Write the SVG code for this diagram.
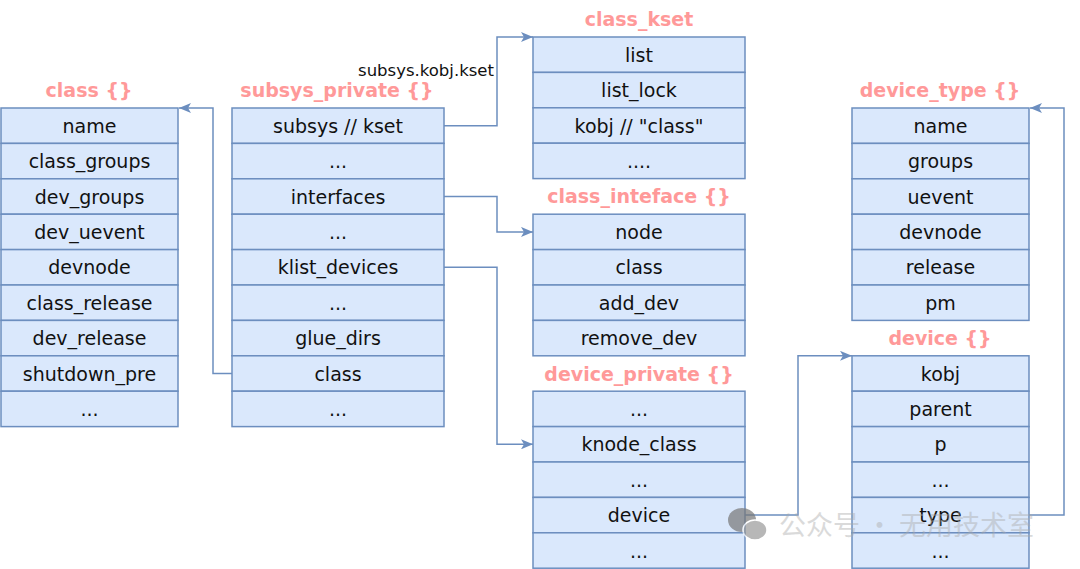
<svg xmlns="http://www.w3.org/2000/svg" width="1080" height="569" viewBox="0 0 1080 569">
<style>
.row{fill:#DAE8FC;stroke:#6C8EBF;stroke-width:1.5}
.t{font-family:"DejaVu Sans",sans-serif;font-size:19px;fill:#111;text-anchor:middle;dominant-baseline:central}
.h{font-family:"DejaVu Sans",sans-serif;font-weight:bold;font-size:19px;fill:#FF9999;text-anchor:middle}
.c{fill:none;stroke:#6C8EBF;stroke-width:1.5}
.lbl{font-family:"DejaVu Sans",sans-serif;font-size:16.5px;fill:#111;text-anchor:middle}
.wm{font-family:"Noto Sans CJK SC",sans-serif;font-size:27px;fill:#aaa;opacity:0.6}
</style>
<defs>
<marker id="arr" viewBox="0 0 12 10" refX="12" refY="5" markerWidth="12" markerHeight="10" markerUnits="userSpaceOnUse" orient="auto">
<path d="M0,0 L12,5 L0,10 L3,5 z" fill="#6C8EBF"/>
</marker>
</defs>
<rect width="1080" height="569" fill="#fff"/>

<g id="class">
<text class="h" x="89" y="97">class {}</text>
<rect class="row" x="1" y="108" width="177" height="35.4"/><text class="t" x="89.5" y="125.7">name</text>
<rect class="row" x="1" y="143.4" width="177" height="35.4"/><text class="t" x="89.5" y="161.1">class_groups</text>
<rect class="row" x="1" y="178.8" width="177" height="35.4"/><text class="t" x="89.5" y="196.5">dev_groups</text>
<rect class="row" x="1" y="214.2" width="177" height="35.4"/><text class="t" x="89.5" y="231.9">dev_uevent</text>
<rect class="row" x="1" y="249.6" width="177" height="35.4"/><text class="t" x="89.5" y="267.3">devnode</text>
<rect class="row" x="1" y="285" width="177" height="35.4"/><text class="t" x="89.5" y="302.7">class_release</text>
<rect class="row" x="1" y="320.4" width="177" height="35.4"/><text class="t" x="89.5" y="338.1">dev_release</text>
<rect class="row" x="1" y="355.8" width="177" height="35.4"/><text class="t" x="89.5" y="373.5">shutdown_pre</text>
<rect class="row" x="1" y="391.2" width="177" height="35.4"/><text class="t" x="89.5" y="408.9">...</text>
</g>

<g id="subsys_private">
<text class="h" x="337" y="97">subsys_private {}</text>
<rect class="row" x="232" y="108" width="212" height="35.4"/><text class="t" x="338" y="125.7">subsys // kset</text>
<rect class="row" x="232" y="143.4" width="212" height="35.4"/><text class="t" x="338" y="161.1">...</text>
<rect class="row" x="232" y="178.8" width="212" height="35.4"/><text class="t" x="338" y="196.5">interfaces</text>
<rect class="row" x="232" y="214.2" width="212" height="35.4"/><text class="t" x="338" y="231.9">...</text>
<rect class="row" x="232" y="249.6" width="212" height="35.4"/><text class="t" x="338" y="267.3">klist_devices</text>
<rect class="row" x="232" y="285" width="212" height="35.4"/><text class="t" x="338" y="302.7">...</text>
<rect class="row" x="232" y="320.4" width="212" height="35.4"/><text class="t" x="338" y="338.1">glue_dirs</text>
<rect class="row" x="232" y="355.8" width="212" height="35.4"/><text class="t" x="338" y="373.5">class</text>
<rect class="row" x="232" y="391.2" width="212" height="35.4"/><text class="t" x="338" y="408.9">...</text>
</g>

<g id="class_kset">
<text class="h" x="639" y="26">class_kset</text>
<rect class="row" x="533" y="37" width="212" height="35.4"/><text class="t" x="639" y="54.7">list</text>
<rect class="row" x="533" y="72.4" width="212" height="35.4"/><text class="t" x="639" y="90.1">list_lock</text>
<rect class="row" x="533" y="107.8" width="212" height="35.4"/><text class="t" x="639" y="125.5">kobj // "class"</text>
<rect class="row" x="533" y="143.2" width="212" height="35.4"/><text class="t" x="639" y="160.9">....</text>
</g>

<g id="class_inteface">
<text class="h" x="639" y="203">class_inteface {}</text>
<rect class="row" x="533" y="214.2" width="212" height="35.4"/><text class="t" x="639" y="231.9">node</text>
<rect class="row" x="533" y="249.6" width="212" height="35.4"/><text class="t" x="639" y="267.3">class</text>
<rect class="row" x="533" y="285" width="212" height="35.4"/><text class="t" x="639" y="302.7">add_dev</text>
<rect class="row" x="533" y="320.4" width="212" height="35.4"/><text class="t" x="639" y="338.1">remove_dev</text>
</g>

<g id="device_private">
<text class="h" x="639" y="381">device_private {}</text>
<rect class="row" x="533" y="391.2" width="212" height="35.4"/><text class="t" x="639" y="408.9">...</text>
<rect class="row" x="533" y="426.6" width="212" height="35.4"/><text class="t" x="639" y="444.3">knode_class</text>
<rect class="row" x="533" y="462" width="212" height="35.4"/><text class="t" x="639" y="479.7">...</text>
<rect class="row" x="533" y="497.4" width="212" height="35.4"/><text class="t" x="639" y="515.1">device</text>
<rect class="row" x="533" y="532.8" width="212" height="35.4"/><text class="t" x="639" y="550.5">...</text>
</g>

<g id="device_type">
<text class="h" x="940" y="97">device_type {}</text>
<rect class="row" x="852" y="108" width="177" height="35.4"/><text class="t" x="940.5" y="125.7">name</text>
<rect class="row" x="852" y="143.4" width="177" height="35.4"/><text class="t" x="940.5" y="161.1">groups</text>
<rect class="row" x="852" y="178.8" width="177" height="35.4"/><text class="t" x="940.5" y="196.5">uevent</text>
<rect class="row" x="852" y="214.2" width="177" height="35.4"/><text class="t" x="940.5" y="231.9">devnode</text>
<rect class="row" x="852" y="249.6" width="177" height="35.4"/><text class="t" x="940.5" y="267.3">release</text>
<rect class="row" x="852" y="285" width="177" height="35.4"/><text class="t" x="940.5" y="302.7">pm</text>
</g>

<g id="device">
<text class="h" x="940" y="345">device {}</text>
<rect class="row" x="852" y="355.8" width="177" height="35.4"/><text class="t" x="940.5" y="373.5">kobj</text>
<rect class="row" x="852" y="391.2" width="177" height="35.4"/><text class="t" x="940.5" y="408.9">parent</text>
<rect class="row" x="852" y="426.6" width="177" height="35.4"/><text class="t" x="940.5" y="444.3">p</text>
<rect class="row" x="852" y="462" width="177" height="35.4"/><text class="t" x="940.5" y="479.7">...</text>
<rect class="row" x="852" y="497.4" width="177" height="35.4"/><text class="t" x="940.5" y="515.1">type</text>
<rect class="row" x="852" y="532.8" width="177" height="35.4"/><text class="t" x="940.5" y="550.5">...</text>
</g>

<g id="connectors">
<path class="c" d="M232,373.5 H213 V108 H179" marker-end="url(#arr)"/>
<path class="c" d="M444,125.7 H497 V37 H533" marker-end="url(#arr)"/>
<text class="lbl" x="426" y="76">subsys.kobj.kset</text>
<path class="c" d="M444,196.5 H497 V231.9 H533" marker-end="url(#arr)"/>
<path class="c" d="M444,267.3 H497 V444.3 H533" marker-end="url(#arr)"/>
<path class="c" d="M745,515.1 H798 V355.8 H852" marker-end="url(#arr)"/>
<path class="c" d="M1029,515.1 H1064 V108 H1030" marker-end="url(#arr)"/>
</g>

<g id="watermark" opacity="0.7">
<ellipse cx="742" cy="520" rx="14" ry="12" fill="#777"/>
<ellipse cx="755" cy="530" rx="12" ry="10" fill="#999" stroke="#fff" stroke-width="1.5"/>
<text class="wm" x="779" y="535">公众号 · 无用技术室</text>
</g>
</svg>
